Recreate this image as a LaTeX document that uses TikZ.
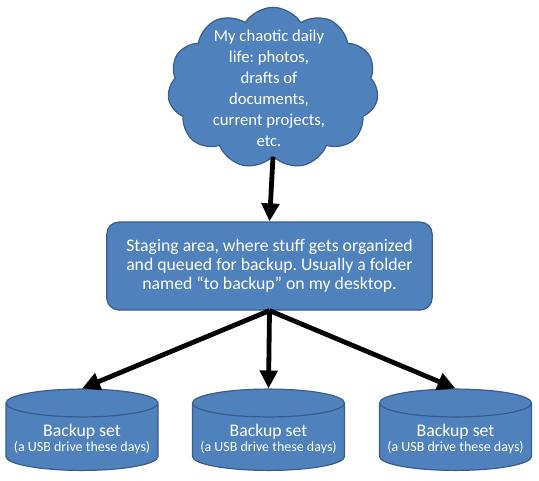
\documentclass[tikz,border=0pt]{standalone}
\usepackage{fontspec}
\setmainfont{Carlito}
\usetikzlibrary{arrows.meta,shapes.symbols,shapes.geometric}
\definecolor{boxfill}{HTML}{4F81BD}
\definecolor{boxline}{HTML}{385D8A}
\frenchspacing

\begin{document}
\begin{tikzpicture}[x=0.75pt, y=-0.75pt, >={Triangle[length=13.5pt,width=13pt]},
    blob/.style={fill=boxfill, draw=boxline, line width=0.9pt, text=white, align=center},
    words/.style={text=white, align=center},
    flow/.style={->, line width=3.6pt},
    drive/.style={blob, cylinder, shape border rotate=90, aspect=0.19,
      minimum width=114pt, minimum height=61pt, inner sep=0pt}]
  \useasboundingbox (0,0) rectangle (539,480);
  % the source of everything
  \node[blob, cloud, cloud puffs=11, cloud puff arc=115, minimum width=158pt, minimum height=121pt,
        label={[words, xshift=-3pt, yshift=0pt, font=\fontsize{12.5}{15.75}\selectfont]center:My chaotic daily\\life: photos,\\drafts of\\documents,\\current projects,\\etc.}]
    (life) at (273,88) {};
  % staging area
  \node[blob, rounded corners=9pt, minimum width=244pt, minimum height=66pt,
        font=\fontsize{13.3}{14.3}\selectfont] (stage) at (269.5,266)
    {Staging area, where stuff gets organized\\and queued for backup. Usually a folder\\named “to backup” on my desktop.};
  % the backup sets
  \foreach \x/\n in {82/d1, 268.5/d2, 455.5/d3}
    \node[drive, label={[words, yshift=-1.5pt]center:{\fontsize{13.3}{15}\selectfont Backup set}\\[-1pt]{\fontsize{10.5}{12}\selectfont (a USB drive these days)}}]
      (\n) at (\x,437) {\makebox[110pt]{}};
  \draw[flow] (life.south) -- (stage.north);
  \foreach \n in {d1,d2,d3}
    \draw[flow] (stage.south) -- (\n.north);
\end{tikzpicture}
\end{document}
